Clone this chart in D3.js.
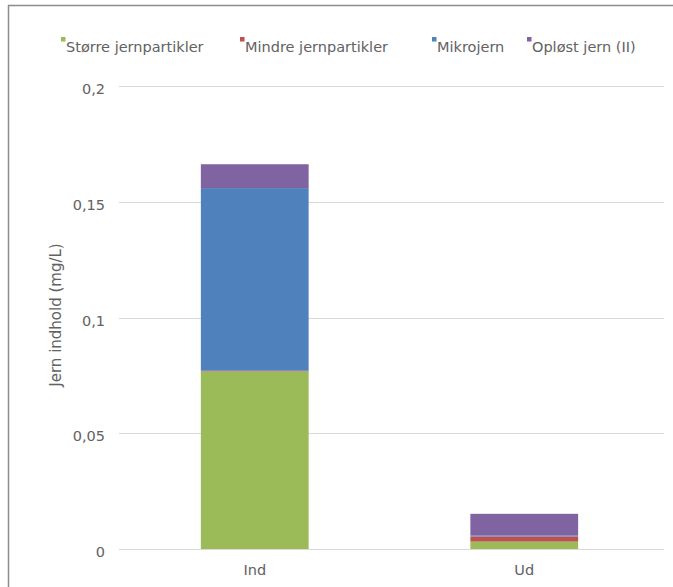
<!DOCTYPE html>
<html>
<head>
<meta charset="utf-8">
<script src="https://cdn.jsdelivr.net/npm/d3@7"></script>
<style>
  html, body { margin: 0; padding: 0; background: #fff; }
  svg { display: block; }
  text { font-family: "DejaVu Sans", "Open Sans", sans-serif; fill: #626262; }
</style>
</head>
<body>
<svg id="chart" width="673" height="587"></svg>
<script>
// Iron content per fraction, inlet vs outlet (mg/L)
const categories = ["Ind", "Ud"];
const seriesNames = ["Større jernpartikler", "Mindre jernpartikler", "Mikrojern", "Opløst jern (II)"];
const storre = [0.0767, 0.0032];
const mindre = [0.0003, 0.0022];
const mikro = [0.0789, 0.0005];
const oplost = [0.0103, 0.0093];
const yTicks = [0, 0.05, 0.1, 0.15, 0.2];
const yTickLabels = ["0", "0,05", "0,1", "0,15", "0,2"];
const colors = ["#9bbb59", "#c0504d", "#4f81bd", "#8064a2"];

const FONT = "'DejaVu Sans', 'Open Sans', sans-serif";
const FS = 14.5;
const svg = d3.select("#chart");

// outer frame
svg.append("line").attr("x1", 8).attr("x2", 673).attr("y1", 5.5).attr("y2", 5.5)
  .attr("stroke", "#8c8c8c").attr("stroke-width", 1.5);
svg.append("line").attr("x1", 8.5).attr("x2", 8.5).attr("y1", 5).attr("y2", 587)
  .attr("stroke", "#8c8c8c").attr("stroke-width", 1.5);

const x = d3.scaleBand().domain(categories).range([120, 659]).paddingInner(0.6).paddingOuter(0.3);
const y = d3.scaleLinear().domain([0, 0.2]).range([549, 86]);

// gridlines
svg.append("g").selectAll("line").data(yTicks).join("line")
  .attr("x1", 119).attr("x2", 664)
  .attr("y1", d => Math.round(y(d)) + 0.5).attr("y2", d => Math.round(y(d)) + 0.5)
  .attr("stroke", "#d9d9d9").attr("stroke-width", 1);

// y axis labels
const yAxis = d3.axisLeft(y).tickValues(yTicks)
  .tickFormat((d, i) => yTickLabels[i]).tickSize(0).tickPadding(0);
const gy = svg.append("g").attr("transform", "translate(105,3)").call(yAxis);
gy.select(".domain").remove();
gy.selectAll("text").attr("font-size", FS).attr("fill", "#626262").style("font-family", FONT);

// stacked bars
const rows = categories.map((c, i) => ({
  cat: c, s0: storre[i], s1: mindre[i], s2: mikro[i], s3: oplost[i]
}));
const stack = d3.stack().keys(["s0", "s1", "s2", "s3"]);
const layers = stack(rows);

svg.append("g").selectAll("g").data(layers).join("g")
  .attr("fill", (d, i) => colors[i])
  .selectAll("rect").data(d => d).join("rect")
  .attr("x", d => x(d.data.cat))
  .attr("width", x.bandwidth())
  .attr("y", d => y(d[1]))
  .attr("height", d => y(d[0]) - y(d[1]));

// x axis labels
const xAxis = d3.axisBottom(x).tickSize(0).tickPadding(0);
const gx = svg.append("g").attr("transform", "translate(0,565)").call(xAxis);
gx.select(".domain").remove();
gx.selectAll("text").attr("font-size", FS).attr("fill", "#626262").style("font-family", FONT);

// y axis title
svg.append("text")
  .attr("transform", "translate(61,315) rotate(-90)")
  .attr("text-anchor", "middle")
  .attr("font-size", FS + 0.5)
  .text("Jern indhold (mg/L)");

// legend
const legendX = [61, 240, 432, 527];
const legend = svg.append("g").selectAll("g").data(seriesNames).join("g")
  .attr("transform", (d, i) => `translate(${legendX[i]},0)`);
legend.append("rect").attr("x", 0).attr("y", 37).attr("width", 4.5).attr("height", 4.5)
  .attr("fill", (d, i) => colors[i]);
legend.append("text").attr("x", 5).attr("y", 52).attr("font-size", FS).text(d => d);
</script>
</body>
</html>
